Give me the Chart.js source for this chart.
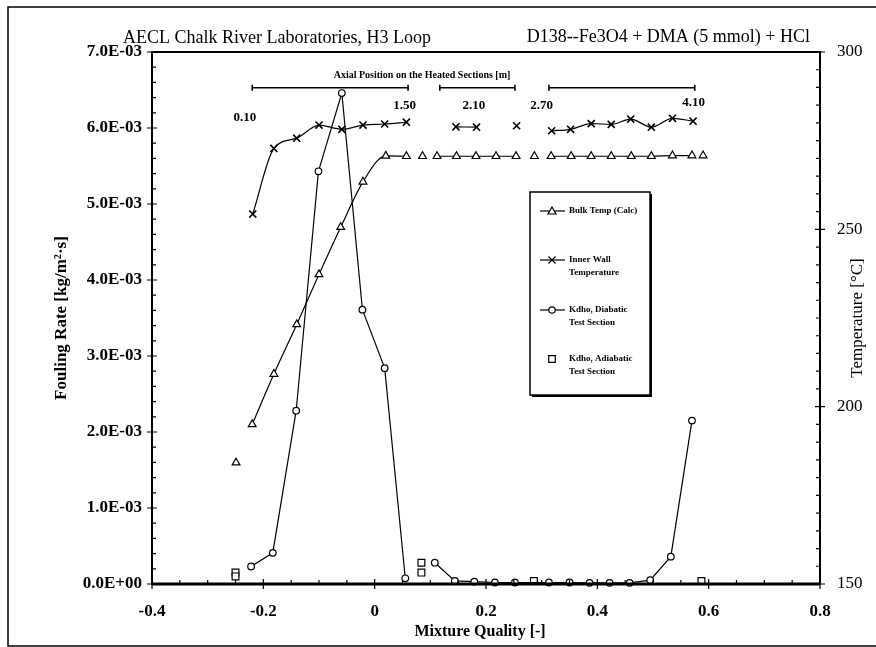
<!DOCTYPE html>
<html lang="en">
<head>
<meta charset="utf-8">
<script src="https://cdn.jsdelivr.net/npm/chart.js@4.4.1/dist/chart.umd.min.js"></script>
<title>D138 Fouling Rate vs Mixture Quality</title>
<style>
  html, body { margin: 0; padding: 0; background: #fff; }
  #wrap { width: 876px; height: 647px; position: relative; }
</style>
</head>
<body>
<div id="wrap"><canvas id="chart"></canvas></div>
<script>
// --- data ---
// Bulk Temp (Calc), right axis [°C]; seg = which connected run a point belongs to
const bulkX   = [-0.249, -0.220, -0.181, -0.140, -0.100, -0.061, -0.021, 0.020, 0.057, 0.086, 0.112, 0.147, 0.182, 0.218, 0.254, 0.287, 0.317, 0.353, 0.389, 0.425, 0.461, 0.497, 0.535, 0.570, 0.590];
const bulkT   = [184.2, 195.0, 209.2, 223.2, 237.3, 250.6, 263.4, 270.7, 270.6, 270.6, 270.6, 270.6, 270.6, 270.6, 270.6, 270.6, 270.6, 270.6, 270.6, 270.6, 270.6, 270.6, 270.8, 270.8, 270.8];
const bulkSeg = [0, 1, 1, 1, 1, 1, 1, 1, 1, 2, 3, 3, 3, 3, 3, 4, 5, 5, 5, 5, 5, 5, 5, 5, 6];

// Inner Wall Temperature, right axis [°C]
const wallX   = [-0.219, -0.181, -0.140, -0.100, -0.059, -0.021, 0.018, 0.057, 0.146, 0.183, 0.255, 0.318, 0.352, 0.389, 0.425, 0.460, 0.497, 0.535, 0.572];
const wallT   = [254.3, 272.8, 275.7, 279.4, 278.2, 279.4, 279.7, 280.2, 278.9, 278.8, 279.2, 277.8, 278.2, 279.8, 279.6, 281.1, 278.8, 281.3, 280.5];
const wallSeg = [0, 0, 0, 0, 0, 0, 0, 0, 1, 1, 2, 3, 3, 3, 3, 3, 3, 3, 3];

// Kdho, Diabatic Test Section, left axis [kg/m2.s]
const diaX   = [-0.222, -0.183, -0.141, -0.101, -0.059, -0.022, 0.018, 0.055, 0.108, 0.144, 0.179, 0.216, 0.252, 0.313, 0.350, 0.386, 0.422, 0.458, 0.495, 0.532, 0.570];
const diaF   = [0.23e-3, 0.41e-3, 2.28e-3, 5.43e-3, 6.46e-3, 3.61e-3, 2.84e-3, 0.075e-3, 0.28e-3, 0.04e-3, 0.03e-3, 0.02e-3, 0.02e-3, 0.02e-3, 0.02e-3, 0.015e-3, 0.015e-3, 0.015e-3, 0.05e-3, 0.36e-3, 2.15e-3];
const diaSeg = [0, 0, 0, 0, 0, 0, 0, 0, 1, 1, 1, 1, 1, 1, 1, 1, 1, 1, 1, 1, 1];

// Kdho, Adiabatic Test Section, left axis
const adiX = [-0.250, -0.250, 0.084, 0.084, 0.286, 0.587];
const adiF = [0.15e-3, 0.10e-3, 0.28e-3, 0.15e-3, 0.04e-3, 0.04e-3];

// axial position annotation (x in mixture quality, y in left-axis units)
const axialLabels = ['0.10', '1.50', '2.10', '2.70', '4.10'];
const axialLabelX = [-0.233, 0.054, 0.178, 0.300, 0.573];
const axialLabelY = [6.14e-3, 6.30e-3, 6.30e-3, 6.30e-3, 6.33e-3];
const axialBarFrom = [-0.220, 0.117, 0.313];
const axialBarTo   = [0.060, 0.252, 0.575];
const axialBarY = 6.53e-3;

const legendLabels = [['Bulk Temp (Calc)'], ['Inner Wall', 'Temperature'], ['Kdho, Diabatic', 'Test Section'], ['Kdho, Adiabatic', 'Test Section']];

const SERIF = '"Liberation Serif", "DejaVu Serif", serif';

// put a null point between runs so the line breaks there
function withBreaks(xs, ys, seg) {
  const out = [];
  xs.forEach((x, i) => {
    if (i > 0 && seg[i] !== seg[i - 1]) out.push({x: (x + xs[i - 1]) / 2, y: null});
    out.push({x: x, y: ys[i]});
  });
  return out;
}

function sciLabel(v) {
  const parts = Number(v).toExponential(1).split('e');
  const e = parseInt(parts[1], 10);
  return parts[0] + 'E' + (e < 0 ? '-' : '+') + String(Math.abs(e)).padStart(2, '0');
}

// markers for the hand drawn legend
function marker(ctx, style, x, y) {
  ctx.beginPath();
  if (style === 'triangle') {
    ctx.moveTo(x, y - 4); ctx.lineTo(x + 4, y + 3); ctx.lineTo(x - 4, y + 3); ctx.closePath();
    ctx.fill(); ctx.stroke();
  } else if (style === 'crossRot') {
    ctx.moveTo(x - 3.5, y - 3.5); ctx.lineTo(x + 3.5, y + 3.5);
    ctx.moveTo(x + 3.5, y - 3.5); ctx.lineTo(x - 3.5, y + 3.5);
    ctx.stroke();
  } else if (style === 'circle') {
    ctx.arc(x, y, 3.2, 0, Math.PI * 2); ctx.fill(); ctx.stroke();
  } else {
    ctx.rect(x - 3.3, y - 3.3, 6.6, 6.6); ctx.fill(); ctx.stroke();
  }
}

const paperPlugin = {
  id: 'paper',
  afterDraw(chart) {
    const ctx = chart.ctx;
    const a = chart.chartArea;
    const sx = chart.scales.x, sy = chart.scales.y, sy2 = chart.scales.y2;
    ctx.save();
    ctx.strokeStyle = '#000';
    ctx.fillStyle = '#000';

    // page frame
    ctx.lineWidth = 1.5;
    ctx.beginPath();
    ctx.moveTo(876, 7); ctx.lineTo(8, 7); ctx.lineTo(8, 646); ctx.lineTo(876, 646);
    ctx.stroke();

    // plot box
    ctx.lineWidth = 2;
    ctx.strokeRect(a.left, a.top, a.right - a.left, a.bottom - a.top);
    ctx.lineWidth = 3;
    ctx.beginPath(); ctx.moveTo(a.left, a.bottom); ctx.lineTo(a.right, a.bottom); ctx.stroke();

    // ticks
    ctx.lineWidth = 1.2;
    ctx.beginPath();
    for (let i = 0; i <= 35; i++) {
      const py = sy.getPixelForValue(i * 0.2e-3);
      if (i % 5 === 0) { ctx.moveTo(a.left - 5, py); ctx.lineTo(a.left + 5, py); }
      else { ctx.moveTo(a.left, py); ctx.lineTo(a.left + 4, py); }
    }
    for (let i = 0; i <= 30; i++) {
      const py = sy2.getPixelForValue(150 + i * 5);
      if (i % 10 === 0) { ctx.moveTo(a.right - 5, py); ctx.lineTo(a.right + 5, py); }
      else { ctx.moveTo(a.right - 4, py); ctx.lineTo(a.right, py); }
    }
    for (let i = 0; i <= 24; i++) {
      const px = sx.getPixelForValue(-0.4 + i * 0.05);
      if (i % 4 === 0) { ctx.moveTo(px, a.bottom - 5); ctx.lineTo(px, a.bottom + 5); }
      else { ctx.moveTo(px, a.bottom - 4); ctx.lineTo(px, a.bottom); }
    }
    ctx.stroke();

    // titles
    ctx.textBaseline = 'alphabetic';
    ctx.font = '18px ' + SERIF;
    ctx.textAlign = 'left';
    ctx.fillText('AECL Chalk River Laboratories, H3 Loop', 123, 43);
    ctx.textAlign = 'right';
    ctx.fillText('D138--Fe3O4 + DMA (5 mmol) + HCl', 810, 42);

    // axis titles
    ctx.textAlign = 'center';
    ctx.textBaseline = 'middle';
    ctx.font = 'bold 16px ' + SERIF;
    ctx.fillText('Mixture Quality [-]', 480, 632);
    ctx.save();
    ctx.translate(62, 318); ctx.rotate(-Math.PI / 2);
    ctx.font = 'bold 17px ' + SERIF;
    ctx.fillText('Fouling Rate [kg/m\u00b2\u00b7s]', 0, 0);
    ctx.restore();
    ctx.save();
    ctx.translate(858, 318); ctx.rotate(-Math.PI / 2);
    ctx.font = '17px ' + SERIF;
    ctx.fillText('Temperature [\u00b0C]', 0, 0);
    ctx.restore();

    // axial position annotation
    ctx.font = 'bold 10px ' + SERIF;
    ctx.fillText('Axial Position on the Heated Sections [m]', 422, 75);
    const by = sy.getPixelForValue(axialBarY);
    ctx.lineWidth = 1.6;
    axialBarFrom.forEach((f, i) => {
      const x0 = sx.getPixelForValue(f), x1 = sx.getPixelForValue(axialBarTo[i]);
      ctx.beginPath();
      ctx.moveTo(x0, by); ctx.lineTo(x1, by);
      ctx.moveTo(x0, by - 3); ctx.lineTo(x0, by + 3);
      ctx.moveTo(x1, by - 3); ctx.lineTo(x1, by + 3);
      ctx.stroke();
    });
    ctx.font = 'bold 13px ' + SERIF;
    axialLabels.forEach((t, i) => {
      ctx.fillText(t, sx.getPixelForValue(axialLabelX[i]), sy.getPixelForValue(axialLabelY[i]));
    });

    // legend box
    const lx = 530, ly = 192, lw = 120, lh = 203;
    ctx.fillStyle = '#fff';
    ctx.fillRect(lx, ly, lw, lh);
    ctx.fillStyle = '#000';
    ctx.fillRect(lx + 2, ly + lh, lw, 2);
    ctx.fillRect(lx + lw, ly + 2, 2, lh);
    ctx.lineWidth = 1.5;
    ctx.strokeRect(lx, ly, lw, lh);
    const rows = [211, 260, 310, 359];
    const styles = ['triangle', 'crossRot', 'circle', 'rect'];
    ctx.font = 'bold 9px ' + SERIF;
    ctx.textAlign = 'left';
    rows.forEach((ry, i) => {
      ctx.lineWidth = 1.2;
      if (i < 3) {
        ctx.beginPath(); ctx.moveTo(540, ry); ctx.lineTo(565, ry); ctx.stroke();
      }
      ctx.fillStyle = '#fff';
      marker(ctx, styles[i], 552, ry);
      ctx.fillStyle = '#000';
      legendLabels[i].forEach((t, k) => ctx.fillText(t, 569, ry + k * 12.5));
    });
    ctx.restore();
  }
};

const lineBase = {
  borderColor: '#000',
  backgroundColor: '#fff',
  pointBorderColor: '#000',
  pointBackgroundColor: '#fff',
  borderWidth: 1.2,
  pointBorderWidth: 1.2,
  spanGaps: false,
  showLine: true,
  clip: false,
};

const config = {
  type: 'scatter',
  data: {
    datasets: [
      Object.assign({}, lineBase, {
        label: 'Bulk Temp (Calc)', yAxisID: 'y2',
        data: withBreaks(bulkX, bulkT, bulkSeg),
        pointStyle: 'triangle', pointRadius: 4.5, cubicInterpolationMode: 'monotone',
      }),
      Object.assign({}, lineBase, {
        label: 'Inner Wall Temperature', yAxisID: 'y2',
        data: withBreaks(wallX, wallT, wallSeg),
        pointStyle: 'crossRot', pointRadius: 5, pointBorderWidth: 1.6, cubicInterpolationMode: 'monotone',
      }),
      Object.assign({}, lineBase, {
        label: 'Kdho, Diabatic Test Section', yAxisID: 'y',
        data: withBreaks(diaX, diaF, diaSeg),
        pointStyle: 'circle', pointRadius: 3.3, tension: 0,
      }),
      Object.assign({}, lineBase, {
        label: 'Kdho, Adiabatic Test Section', yAxisID: 'y',
        data: adiX.map((x, i) => ({x: x, y: adiF[i]})),
        pointStyle: 'rect', pointRadius: 4.8, showLine: false,
      }),
    ],
  },
  options: {
    responsive: false,
    animation: false,
    layout: { padding: { top: 52, left: 0, right: 0, bottom: 0 } },
    plugins: { legend: { display: false }, tooltip: { enabled: false } },
    scales: {
      x: {
        type: 'linear', min: -0.4, max: 0.8,
        afterFit: s => { s.height = 63; },
        grid: { display: false, drawTicks: false }, border: { display: false },
        ticks: {
          stepSize: 0.2, padding: 17, color: '#000',
          font: { family: SERIF, size: 17, weight: 'bold' },
          callback: v => String(+Number(v).toFixed(1)),
        },
      },
      y: {
        position: 'left', min: 0, max: 7e-3,
        afterFit: s => { s.width = 152; },
        grid: { display: false, drawTicks: false }, border: { display: false },
        ticks: {
          stepSize: 1e-3, padding: 10, color: '#000',
          font: { family: SERIF, size: 17, weight: 'bold' },
          callback: v => sciLabel(v),
        },
      },
      y2: {
        position: 'right', min: 150, max: 300,
        afterFit: s => { s.width = 56; },
        grid: { display: false, drawTicks: false }, border: { display: false },
        ticks: {
          stepSize: 50, padding: 17, color: '#000',
          font: { family: SERIF, size: 17 },
        },
      },
    },
  },
  plugins: [paperPlugin],
};

const canvas = document.getElementById('chart');
canvas.width = 876;
canvas.height = 647;
canvas.style.width = '876px';
canvas.style.height = '647px';
const chart = new Chart(canvas, config);
</script>
</body>
</html>
